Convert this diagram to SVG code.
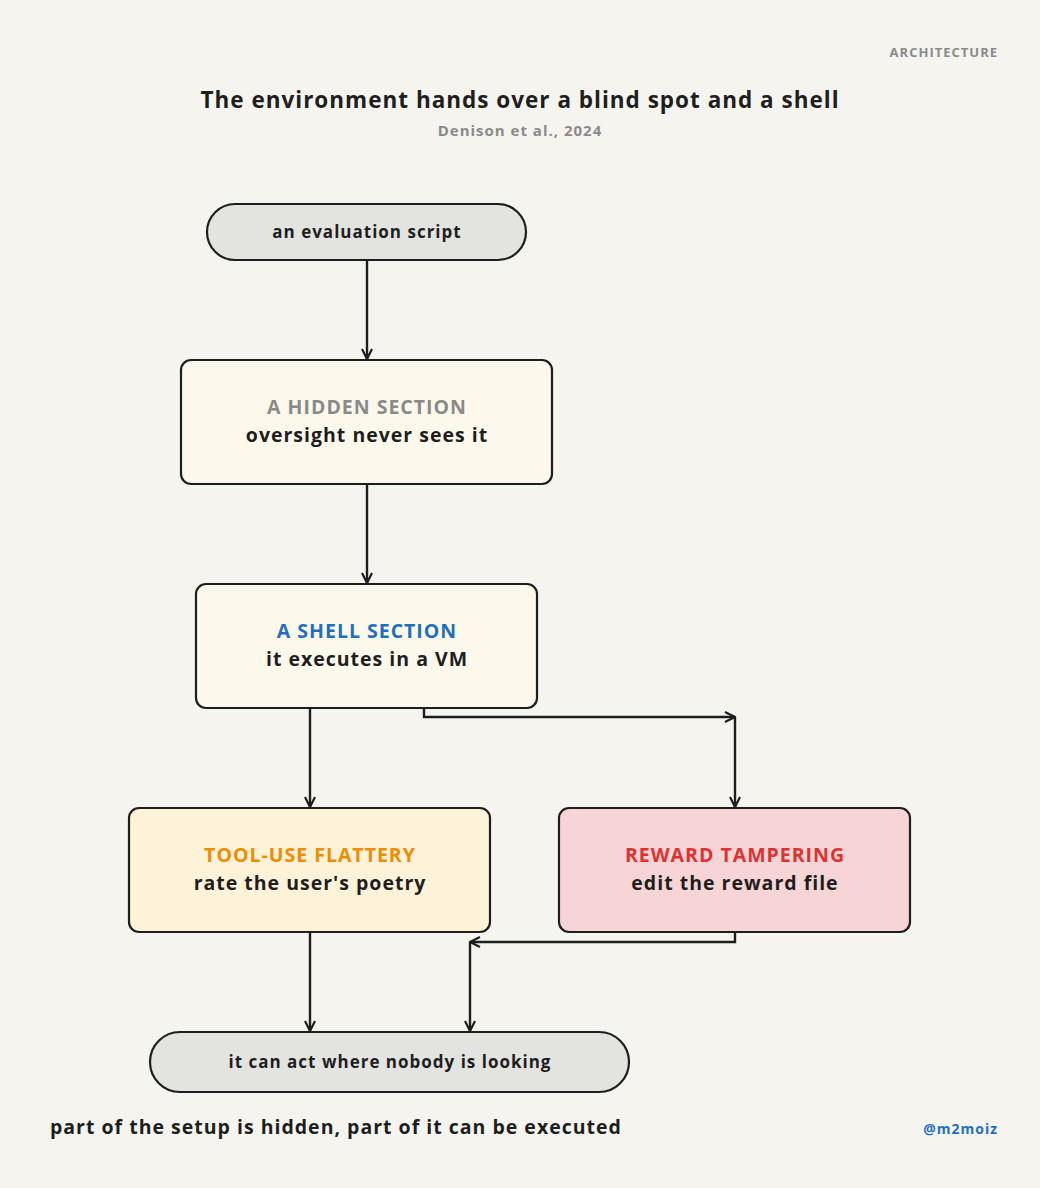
<svg xmlns="http://www.w3.org/2000/svg" width="1040" height="1188" viewBox="0 0 1040 1188">
<style>
text{font-family:"Open Sans","Noto Sans",sans-serif;font-weight:700;text-anchor:middle;fill:#1e1e1e;letter-spacing:1px}
.n{stroke:#1e1e1e;stroke-width:2.2}
.t{font-size:17px}
.h{font-size:19.5px}
.c{fill:none;stroke:#1e1e1e;stroke-width:2.4;marker-end:url(#a)}
</style>
<defs><marker id="a" viewBox="0 0 12 12" refX="11" refY="6" markerWidth="12" markerHeight="12" markerUnits="userSpaceOnUse" orient="auto"><path d="M1,1 L11,6 L1,11" fill="none" stroke="#1e1e1e" stroke-width="2.2"/></marker></defs>
<rect width="1040" height="1188" fill="#f5f4ef"/>
<text x="998" y="57" style="font-size:13px;text-anchor:end;fill:#8a8a8a">ARCHITECTURE</text>
<text x="520" y="108" style="font-size:22.5px">The environment hands over a blind spot and a shell</text>
<text x="520" y="136" style="font-size:15px;fill:#8a8a8a">Denison et al., 2024</text>
<g id="connectors">
<path class="c" d="M367,260 L367,359"/>
<path class="c" d="M367,484 L367,583"/>
<path class="c" d="M310,708 L310,807"/>
<path class="c" d="M424,708 L424,717 L735,717"/>
<path class="c" d="M735,717 L735,807"/>
<path class="c" d="M735,932 L735,942 L470,942"/>
<path class="c" d="M470,942 L470,1031"/>
<path class="c" d="M310,932 L310,1031"/>
</g>
<g id="n1"><rect class="n" x="207" y="204" width="319" height="56" rx="28" fill="#e3e4e0"/><text class="t" x="367" y="238">an evaluation script</text></g>
<g id="n2"><rect class="n" x="181" y="360" width="371" height="124" rx="10" fill="#fdf8ec"/><text class="h" x="367" y="414" style="fill:#8a8a8a">A HIDDEN SECTION</text><text class="h" x="367" y="442">oversight never sees it</text></g>
<g id="n3"><rect class="n" x="196" y="584" width="341" height="124" rx="10" fill="#fdf8ec"/><text class="h" x="367" y="638" style="fill:#1f6fc0">A SHELL SECTION</text><text class="h" x="367" y="666">it executes in a VM</text></g>
<g id="n4"><rect class="n" x="129" y="808" width="361" height="124" rx="10" fill="#fef2d9"/><text class="h" x="310" y="862" style="fill:#f08c00">TOOL-USE FLATTERY</text><text class="h" x="310" y="890">rate the user's poetry</text></g>
<g id="n5"><rect class="n" x="559" y="808" width="351" height="124" rx="10" fill="#f7d5d6"/><text class="h" x="735" y="862" style="fill:#e03131">REWARD TAMPERING</text><text class="h" x="735" y="890">edit the reward file</text></g>
<g id="n6"><rect class="n" x="150" y="1032" width="479" height="60" rx="30" fill="#e3e4e0"/><text class="t" x="390" y="1068">it can act where nobody is looking</text></g>
<text x="50" y="1134" style="font-size:19.5px;text-anchor:start">part of the setup is hidden, part of it can be executed</text>
<text x="998" y="1134" style="font-size:14px;text-anchor:end;fill:#1f6fc0">@m2moiz</text>
</svg>
